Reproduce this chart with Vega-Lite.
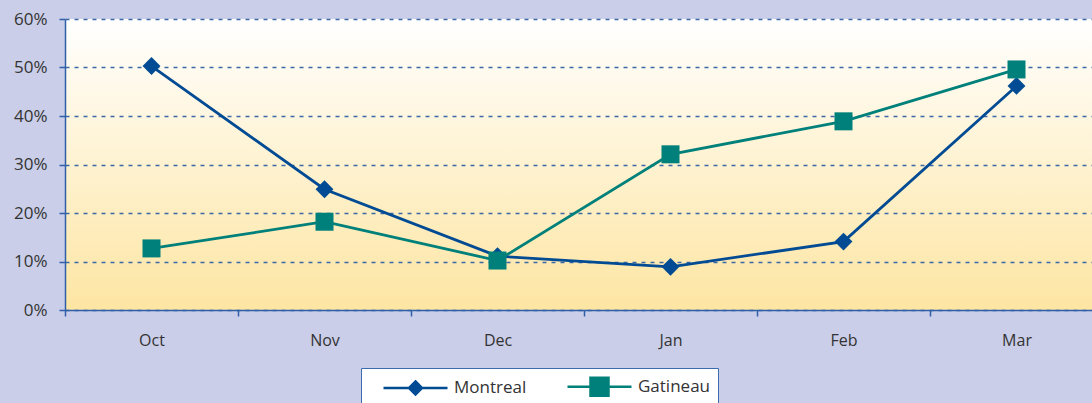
{
  "$schema": "https://vega.github.io/schema/vega-lite/v6.json",
  "width": 1038,
  "height": 291,
  "autosize": "none",
  "padding": {"left": 65, "top": 19, "right": 0, "bottom": 93},
  "background": "#cacee8",
  "view": {
    "stroke": null,
    "fill": {"gradient": "linear", "x1": 0, "y1": 0, "x2": 0, "y2": 1,
      "stops": [{"offset": 0, "color": "#ffffff"}, {"offset": 1, "color": "#fde5a2"}]}
  },
  "config": {
    "font": "Open Sans",
    "axis": {
      "domainColor": "#2f5fa8", "domainWidth": 1.5, "tickColor": "#2f5fa8", "tickWidth": 1.5, "tickSize": 6,
      "labelColor": "#333333", "labelFontSize": 17, "title": null
    },
    "legend": {"symbolStrokeWidth": 2.5, "symbolOpacity": 1}
  },
  "data": {"values": [
    {"month": "Oct", "city": "Montreal", "v": 50.3},
    {"month": "Nov", "city": "Montreal", "v": 24.9},
    {"month": "Dec", "city": "Montreal", "v": 11.1},
    {"month": "Jan", "city": "Montreal", "v": 8.9},
    {"month": "Feb", "city": "Montreal", "v": 14.1},
    {"month": "Mar", "city": "Montreal", "v": 46.2},
    {"month": "Oct", "city": "Gatineau", "v": 12.7},
    {"month": "Nov", "city": "Gatineau", "v": 18.2},
    {"month": "Dec", "city": "Gatineau", "v": 10.2},
    {"month": "Jan", "city": "Gatineau", "v": 32.1},
    {"month": "Feb", "city": "Gatineau", "v": 38.9},
    {"month": "Mar", "city": "Gatineau", "v": 49.6}
  ]},
  "encoding": {
    "x": {"field": "month", "type": "nominal", "sort": ["Oct", "Nov", "Dec", "Jan", "Feb", "Mar"],
      "scale": {"type": "band", "paddingInner": 0, "paddingOuter": 0},
      "axis": {"labelAngle": 0, "tickBand": "extent", "labelPadding": 16, "grid": false, "labelFontSize": 16}},
    "y": {"field": "v", "type": "quantitative", "scale": {"domain": [0, 60], "nice": false},
      "axis": {"values": [0, 10, 20, 30, 40, 50, 60], "labelExpr": "datum.value + '%'", "labelPadding": 12,
        "grid": true, "gridColor": "#3d68a6", "gridDash": [4, 5], "gridWidth": 1.3}}
  },
  "layer": [
    {"mark": {"type": "line", "strokeWidth": 2.8},
      "encoding": {
        "stroke": {"field": "city", "type": "nominal", "scale": {"domain": ["Montreal", "Gatineau"], "range": ["#004b93", "#00807a"]},
          "legend": {"orient": "none", "legendX": 296, "legendY": 349, "direction": "horizontal", "title": null,
            "fillColor": "#ffffff", "strokeColor": "#3d6cae", "padding": 7,
            "symbolSize": 400, "symbolOffset": 36, "labelOffset": 27, "columnPadding": 25, "symbolStrokeWidth": 2.5,
            "labelFontSize": 17, "labelColor": "#333333", "labelFont": "Open Sans"}}
      }},
    {"transform": [{"filter": "datum.city === 'Montreal'"}],
      "mark": {"type": "point", "filled": true, "opacity": 1, "shape": "diamond", "size": 320},
      "encoding": {
        "fill": {"field": "city", "type": "nominal", "scale": {"domain": ["Montreal", "Gatineau"], "range": ["#004b93", "#00807a"]},
          "legend": {"orient": "none", "legendX": 296, "legendY": 349, "direction": "horizontal", "title": null,
            "fillColor": "#ffffff", "strokeColor": "#3d6cae", "padding": 7,
            "symbolSize": 400, "symbolOffset": 36, "labelOffset": 27, "columnPadding": 25, "symbolStrokeWidth": 2.5,
            "labelFontSize": 17, "labelColor": "#333333", "labelFont": "Open Sans"}}
      }},
    {"transform": [{"filter": "datum.city === 'Gatineau'"}],
      "mark": {"type": "point", "filled": true, "opacity": 1, "shape": "square", "size": 324},
      "encoding": {
        "fill": {"field": "city", "type": "nominal", "scale": {"domain": ["Montreal", "Gatineau"], "range": ["#004b93", "#00807a"]},
          "legend": {"orient": "none", "legendX": 296, "legendY": 349, "direction": "horizontal", "title": null,
            "fillColor": "#ffffff", "strokeColor": "#3d6cae", "padding": 7,
            "symbolSize": 400, "symbolOffset": 36, "labelOffset": 27, "columnPadding": 25, "symbolStrokeWidth": 2.5,
            "labelFontSize": 17, "labelColor": "#333333", "labelFont": "Open Sans"}}
      }},
    {"mark": {"type": "point", "filled": true, "size": 0},
      "encoding": {
        "shape": {"field": "city", "type": "nominal",
          "scale": {"domain": ["Montreal", "Gatineau"], "range": ["M-3.2,0H3.2M0,-0.65L0.65,0L0,0.65L-0.65,0Z", "M-3.2,0H3.2M-0.9,-0.9H0.9V0.9H-0.9Z"]},
          "legend": {"orient": "none", "legendX": 296, "legendY": 349, "direction": "horizontal", "title": null,
            "fillColor": "#ffffff", "strokeColor": "#3d6cae", "padding": 7,
            "symbolSize": 400, "symbolOffset": 36, "labelOffset": 27, "columnPadding": 25, "symbolStrokeWidth": 2.5,
            "labelFontSize": 17, "labelColor": "#333333", "labelFont": "Open Sans"}}
      }}
  ]
}
